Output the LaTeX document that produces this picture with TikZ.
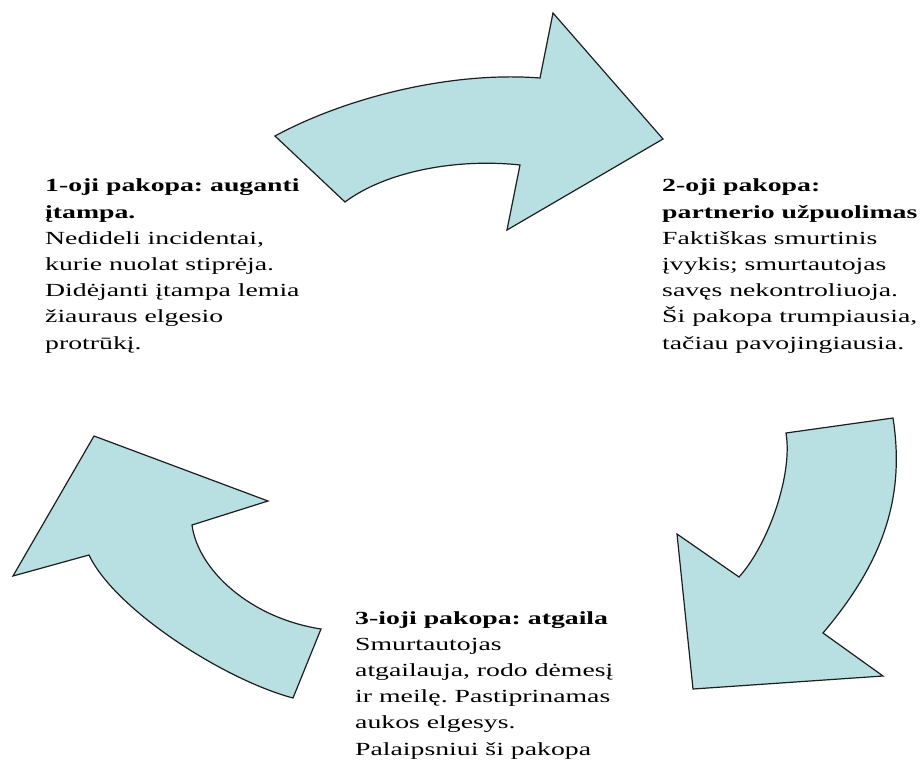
\documentclass[tikz,border=0pt]{standalone}
\usepackage{fontspec}
\setmainfont{Liberation Serif}[FakeStretch=1.5]
\frenchspacing
\definecolor{arrowfill}{HTML}{B8DFE2}
\definecolor{arrowline}{HTML}{1E1E1E}
\begin{document}
\begin{tikzpicture}[x=1pt,y=-1pt,
    cyclearrow/.style={draw=arrowline,fill=arrowfill,line width=1.2pt,line join=miter},
    stagetext/.style={inner sep=0pt,align=left,anchor=base west,
      font=\fontsize{18.5}{26.2}\selectfont}]
					\useasboundingbox (0,0) rectangle (921,760); % Keeps the page size...
					
					% Arrow from stage 1 to stage 2
					\coordinate (TopTail) at (275,136);
					\coordinate (TopTip) at (663,139);
					\draw [cyclearrow] (TopTail)
					.. controls (345,98) and (450,71) .. (540,78)
					-- (553,13) -- (TopTip) -- (507,230) -- (520,165)
					.. controls (455,158) and (385,172) .. (345,202) -- cycle;
					
					% Arrow from stage 2 to stage 3
					\coordinate (RightTail) at (893,418);
					\coordinate (RightTip) at (693,689);
					\draw [cyclearrow] (RightTail) -- (786,433)
					.. controls (793,475) and (768,545) .. (739,577)
					-- (677,534) -- (RightTip) -- (883,676) -- (823,633)
					.. controls (885,560) and (905,495) .. (RightTail) -- cycle;
					
					% Arrow from stage 3 back to stage 1
					\coordinate (LeftTail) at (321,629);
					\coordinate (LeftTip) at (94,436);
					\draw [cyclearrow] (LeftTail) -- (293,698)
					.. controls (225,680) and (115,610) .. (89,555)
					-- (13,576) -- (LeftTip) -- (268,501) -- (192,525)
					.. controls (198,570) and (250,618) .. (LeftTail) -- cycle;
					
					% The three stages (anchored on their last line)
					\node [stagetext] (StageOne) at (45,349)
					{\textbf{1-oji pakopa: auganti}\\\textbf{įtampa.}\\Nedideli incidentai,\\kurie nuolat stiprėja.\\Didėjanti įtampa lemia\\žiauraus elgesio\\protrūkį.};
					\node [stagetext] (StageTwo) at (662,349)
					{\textbf{2-oji pakopa:}\\\textbf{partnerio užpuolimas}\\Faktiškas smurtinis\\įvykis; smurtautojas\\savęs nekontroliuoja.\\Ši pakopa trumpiausia,\\tačiau pavojingiausia.};
					\node [stagetext] (StageThree) at (355,755)
					{\textbf{3-ioji pakopa: atgaila}\\Smurtautojas\\atgailauja, rodo dėmesį\\ir meilę. Pastiprinamas\\aukos elgesys.\\Palaipsniui ši pakopa};
		\end{tikzpicture}
\end{document}
